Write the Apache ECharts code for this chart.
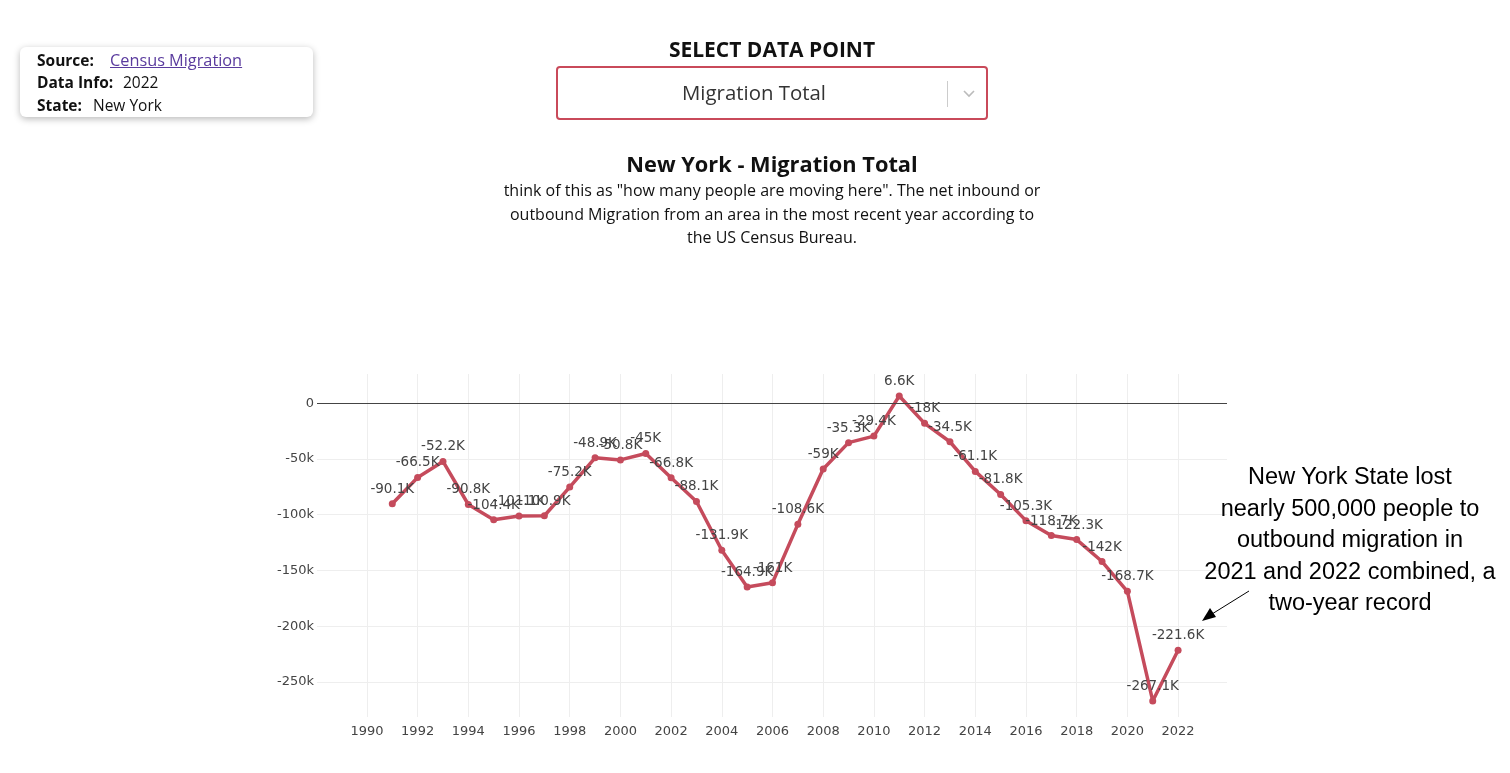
<!DOCTYPE html>
<html>
<head>
<meta charset="utf-8">
<script src="https://cdn.jsdelivr.net/npm/echarts@6/dist/echarts.min.js"></script>
<style>
  html, body { margin: 0; padding: 0; width: 1510px; height: 773px; background: #fff; overflow: hidden; }
  #chart { position: absolute; left: 0; top: 0; width: 1510px; height: 773px; }
  .ui { position: absolute; font-family: "Open Sans", "Noto Sans", sans-serif; color: #111; }
  #info { left: 20px; top: 47px; width: 293px; height: 70px; background: #fff; border-radius: 6px;
          box-shadow: 0 2px 7px rgba(0,0,0,0.28); font-size: 15.5px; }
  #info div { position: absolute; white-space: nowrap; }
  #info b { font-weight: 700; }
  #info a { color: #5a3b9e; text-decoration: underline; font-size: 16.3px; }
  #sel { left: 472px; top: 35px; width: 600px; text-align: center; font-weight: 700; font-size: 21px; }
  #drop { left: 556px; top: 66px; width: 428px; height: 50px; border: 2px solid #c94a5a; border-radius: 4px; }
  #drop .txt { position: absolute; left: 0; width: 392px; top: 10px; text-align: center; font-size: 20.4px; color: #333; }
  #drop .sep { position: absolute; left: 389px; top: 13px; width: 1px; height: 26px; background: #ccc; }
  #ttl { left: 422px; top: 149px; width: 700px; text-align: center; font-weight: 700; font-size: 21.8px; }
  #desc { left: 422px; top: 179px; width: 700px; text-align: center; font-size: 16px; line-height: 23.5px; color: #111; }
  #note { position: absolute; left: 1170px; top: 461px; width: 360px; text-align: center;
          font-family: "Liberation Sans", Arial, sans-serif; font-size: 23.5px; line-height: 31.5px; color: #000; }
  #arrow { position: absolute; left: 0; top: 0; }
</style>
</head>
<body>
<div id="chart"></div>

<div class="ui" id="info">
  <div style="left:17px; top:2px;"><b>Source:</b></div>
  <div style="left:90px; top:2px;"><a>Census Migration</a></div>
  <div style="left:17px; top:24px;"><b>Data Info:</b></div>
  <div style="left:103px; top:24px;">2022</div>
  <div style="left:17px; top:47px;"><b>State:</b></div>
  <div style="left:73px; top:47px;">New York</div>
</div>

<div class="ui" id="sel">SELECT DATA POINT</div>
<div class="ui" id="drop">
  <div class="txt">Migration Total</div>
  <div class="sep"></div>
  <svg style="position:absolute; left:404px; top:21px;" width="14" height="10" viewBox="0 0 14 10">
    <polyline points="2,2 7,7 12,2" fill="none" stroke="#bbb" stroke-width="1.6"/>
  </svg>
</div>

<div class="ui" id="ttl">New York - Migration Total</div>
<div class="ui" id="desc">think of this as "how many people are moving here". The net inbound or<br>outbound Migration from an area in the most recent year according to<br>the US Census Bureau.</div>

<div id="note">New York State lost<br>nearly 500,000 people to<br>outbound migration in<br>2021 and 2022 combined, a<br>two-year record</div>
<svg id="arrow" width="1510" height="773">
  <line x1="1249" y1="591" x2="1212" y2="614" stroke="#000" stroke-width="1"/>
  <polygon points="1202,621 1210,608 1216,617" fill="#000"/>
</svg>

<script>
const years = [1991, 1992, 1993, 1994, 1995, 1996, 1997, 1998, 1999, 2000,
               2001, 2002, 2003, 2004, 2005, 2006, 2007, 2008, 2009, 2010,
               2011, 2012, 2013, 2014, 2015, 2016, 2017, 2018, 2019, 2020,
               2021, 2022];
const migration = [-90100, -66500, -52200, -90800, -104400, -101100, -100900, -75200, -48900, -50800,
                   -45000, -66800, -88100, -131900, -164900, -161000, -108600, -59000, -35300, -29400,
                   6600, -18000, -34500, -61100, -81800, -105300, -118700, -122300, -142000, -168700,
                   -267100, -221600];
const xTicks = [1990, 1992, 1994, 1996, 1998, 2000, 2002, 2004, 2006, 2008,
                2010, 2012, 2014, 2016, 2018, 2020, 2022];
const yTicks = [0, -50000, -100000, -150000, -200000, -250000];

const chart = echarts.init(document.getElementById('chart'), null, { renderer: 'canvas' });
const lineColor = '#c54b5c';
const axisFont = { fontFamily: 'DejaVu Sans', fontSize: 13, color: '#444' };

chart.setOption({
  animation: false,
  grid: { left: 317, right: 283, top: 374, bottom: 56, containLabel: false },
  xAxis: {
    type: 'value',
    min: 1988.03,
    max: 2023.93,
    axisLine: { show: false },
    axisTick: { show: false, customValues: xTicks },
    axisLabel: Object.assign({ customValues: xTicks, margin: 8, formatter: v => String(v) }, axisFont),
    splitLine: { show: true, lineStyle: { color: '#eeeeee', width: 1 } }
  },
  yAxis: {
    type: 'value',
    min: -281500,
    max: 26300,
    axisLine: { show: false },
    axisTick: { show: false, customValues: yTicks },
    axisLabel: Object.assign({ customValues: yTicks, margin: 3,
      formatter: v => v === 0 ? '0' : (v / 1000) + 'k' }, axisFont),
    splitLine: { show: true, lineStyle: { color: '#eeeeee', width: 1 } }
  },
  series: [{
    type: 'line',
    data: years.map((y, i) => [y, migration[i]]),
    symbol: 'circle',
    symbolSize: 7,
    itemStyle: { color: lineColor },
    lineStyle: { color: lineColor, width: 3.5 },
    label: {
      show: true,
      position: 'top',
      distance: 4,
      fontFamily: 'DejaVu Sans',
      fontSize: 13.5,
      color: '#444',
      formatter: p => Number((p.value[1] / 1000).toFixed(1)) + 'K'
    },
    labelLayout: { hideOverlap: false },
    markLine: {
      silent: true,
      symbol: 'none',
      label: { show: false },
      lineStyle: { color: '#444', width: 1, type: 'solid' },
      data: [{ yAxis: 0 }]
    },
    z: 3
  }]
});
</script>
</body>
</html>
